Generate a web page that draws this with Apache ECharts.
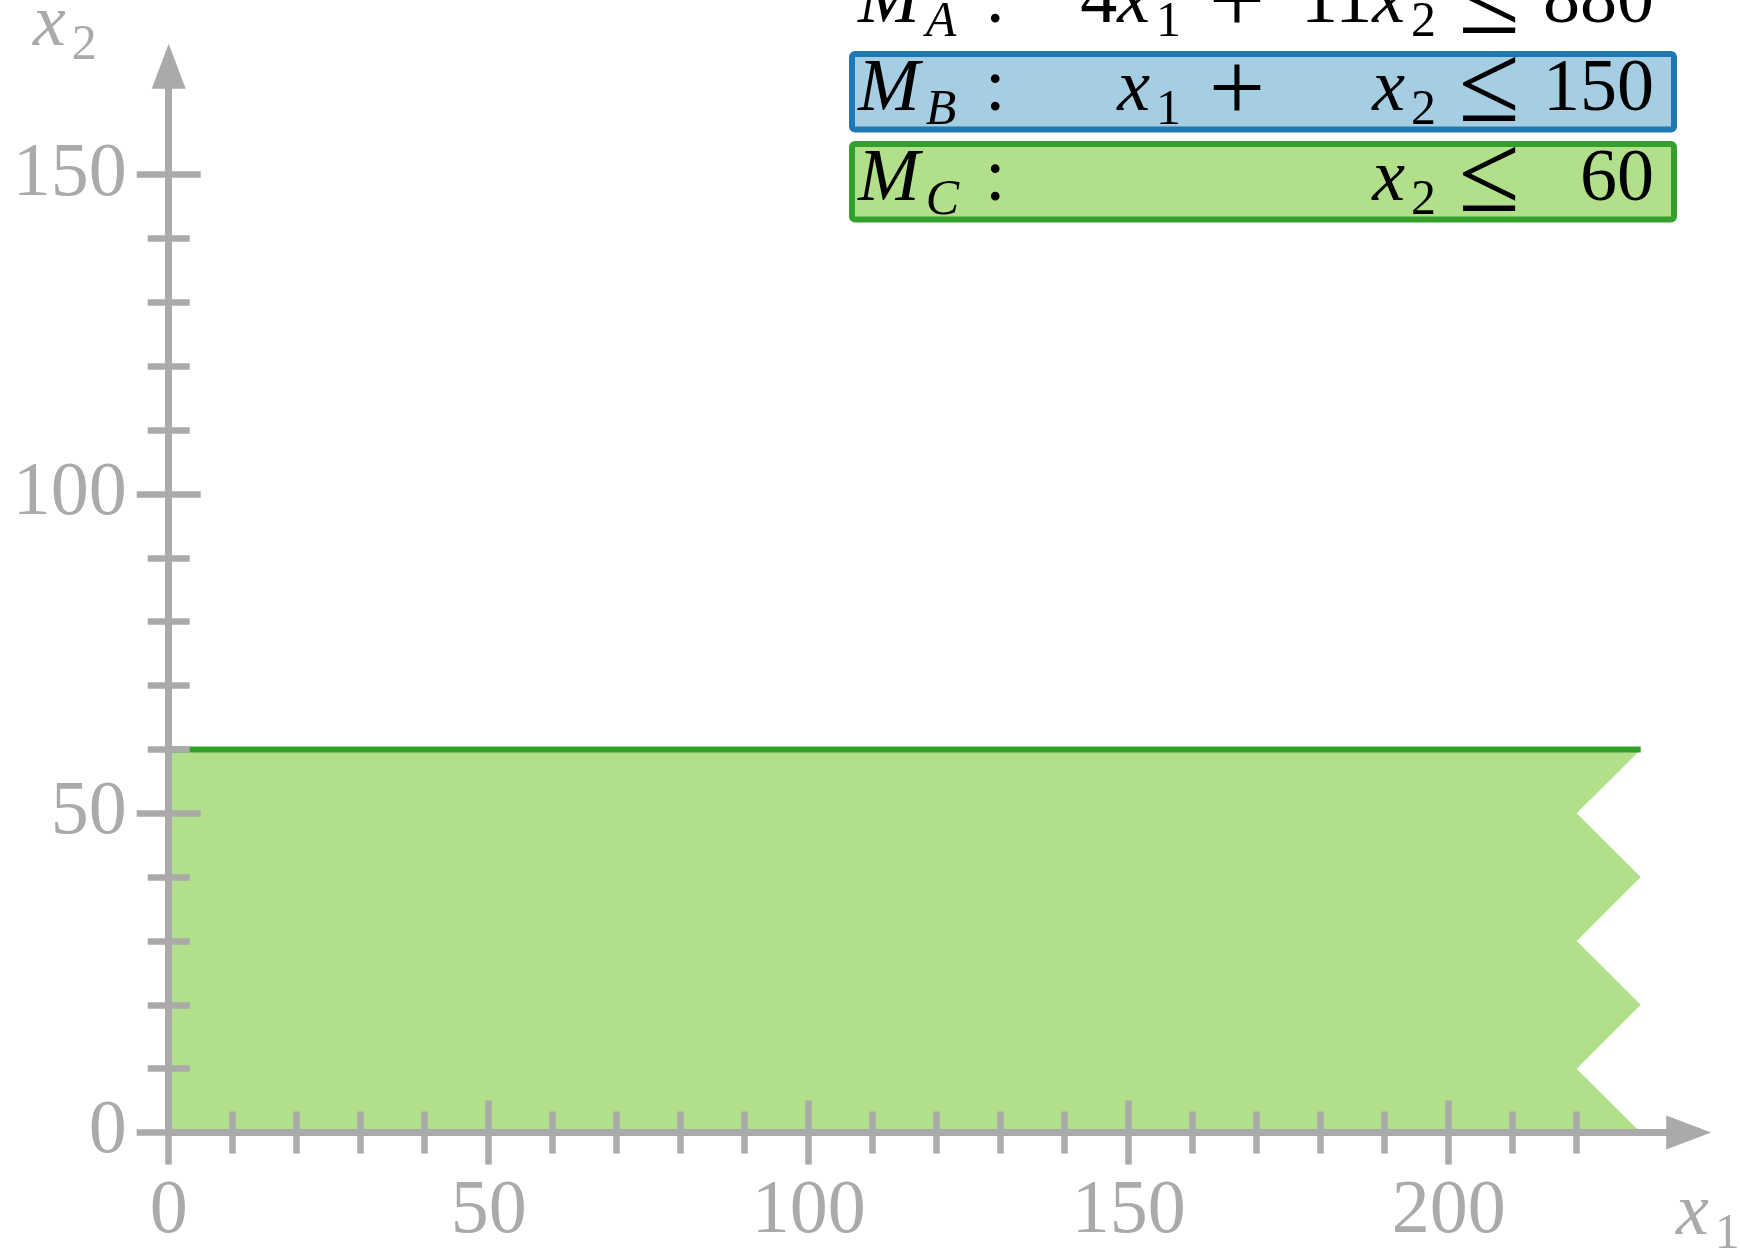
<!DOCTYPE html>
<html>
<head>
<meta charset="utf-8">
<script src="https://cdn.jsdelivr.net/npm/echarts@6/dist/echarts.min.js"></script>
<style>
  html, body { margin: 0; padding: 0; background: #ffffff; }
  #chart { width: 1740px; height: 1250px; }
</style>
</head>
<body>
<div id="chart"></div>
<script>
// ---------------- data ----------------
const xMajorTicks = [0, 50, 100, 150, 200];
const xMinorTicks = [10, 20, 30, 40, 60, 70, 80, 90, 110, 120, 130, 140, 160, 170, 180, 190, 210, 220];
const yMajorTicks = [0, 50, 100, 150];
const yMinorTicks = [10, 20, 30, 40, 60, 70, 80, 90, 110, 120, 130, 140];

// feasible region of constraint M_C (x2 <= 60), cut off with a zig-zag on the right
const regionX = [0, 0, 230, 220, 230, 220, 230, 220, 230];
const regionY = [0, 60, 60, 50, 40, 30, 20, 10, 0];

// boundary line of M_C
const lineCX = [0, 230];
const lineCY = [60, 60];

// constraint table (legend)
const consNames = ['A', 'B', 'C'];
const consA1 = [4, 1, null];
const consA2 = [11, 1, 1];
const consRhs = [880, 150, 60];

// ---------------- styles / layout ----------------
const AXIS_COLOR = '#aaaaaa';
const FAM = '"Liberation Serif"';
const X_MAX = 237.5, Y_MAX = 167;
const F = 74, FS = 50, LH = 74, SLH = 14;
const BASE = 57;       // top of text box -> alphabetic baseline
const rowBaselines = [23, 111, 201];
const boxFill = [null, '#a6cee3', '#b2df8a'];
const boxStroke = [null, '#1f78b4', '#33a02c'];

function richStyles(color) {
  return {
    m:  { font: `${F}px ${FAM}`, lineHeight: LH, fill: color },
    mi: { font: `italic ${F}px ${FAM}`, lineHeight: LH, fill: color },
    s:  { font: `${FS}px ${FAM}`, lineHeight: SLH, verticalAlign: 'top', padding: [32, 0, 0, 6], fill: color },
    si: { font: `italic ${FS}px ${FAM}`, lineHeight: SLH, verticalAlign: 'top', padding: [32, 0, 0, 6], fill: color }
  };
}
function richText(str, x, baseline, align, color) {
  return {
    type: 'text', x: x, y: baseline - BASE, z: 20,
    style: {
      text: str, rich: richStyles(color), fill: color,
      font: `${F}px ${FAM}`,
      textAlign: align, textVerticalAlign: 'top'
    }
  };
}
function symText(str, cx, cy, size, color) {
  return {
    type: 'text', x: cx, y: cy, z: 20,
    style: {
      text: str, fill: color, font: `${size}px ${FAM}`,
      textAlign: 'center', textVerticalAlign: 'middle'
    }
  };
}

const graphics = [];
consNames.forEach((nm, i) => {
  const b = rowBaselines[i];
  if (boxFill[i]) {
    graphics.push({
      type: 'rect', z: 15,
      shape: { x: 852, y: b - 57, width: 822, height: 75.5, r: 3 },
      style: { fill: boxFill[i], stroke: boxStroke[i], lineWidth: 6 }
    });
  }
  graphics.push(richText(`{mi|M}{si|${nm}}`, 858, b, 'left', '#000'));
  graphics.push(richText(`{m|:}`, 985, b, 'left', '#000'));
  if (consA1[i] !== null) {
    const c = consA1[i] === 1 ? '' : `{m|${consA1[i]}}`;
    graphics.push(richText(`${c}{mi|x}{s|1}`, 1181, b, 'right', '#000'));
    graphics.push(symText('+', 1237, b - 16, 100, '#000'));
  }
  if (consA2[i] !== null) {
    const c = consA2[i] === 1 ? '' : `{m|${consA2[i]}}`;
    graphics.push(richText(`${c}{mi|x}{s|2}`, 1436, b, 'right', '#000'));
  }
  graphics.push(symText('\u2264', 1489, b - 19, 112, '#000'));
  graphics.push(richText(`{m|${consRhs[i]}}`, 1654, b, 'right', '#000'));
});
// axis names
graphics.push(richText('{mi|x}{s|2}', 33, 46, 'left', AXIS_COLOR));
graphics.push(richText('{mi|x}{s|1}', 1676, 1235, 'left', AXIS_COLOR));

function makeAxis(dim, values, len, inside, main) {
  const isX = dim === 'x';
  return {
    type: 'value',
    position: isX ? 'bottom' : 'left',
    min: 0,
    max: isX ? X_MAX : Y_MAX,
    z: 10,
    splitLine: { show: false },
    axisLine: {
      show: !!main,
      onZero: false,
      symbol: ['none', 'triangle'],
      symbolSize: [34, 45],
      lineStyle: { color: AXIS_COLOR, width: 7 }
    },
    axisTick: {
      show: true, inside: inside, length: len,
      customValues: values,
      lineStyle: { color: AXIS_COLOR, width: 6.5 }
    },
    axisLabel: main ? {
      show: true,
      customValues: values,
      margin: isX ? 41.5 : 42,
      color: AXIS_COLOR,
      fontFamily: 'Liberation Serif',
      fontSize: 76
    } : { show: false }
  };
}

const chart = echarts.init(document.getElementById('chart'), null, { renderer: 'canvas' });
chart.setOption({
  animation: false,
  backgroundColor: '#ffffff',
  grid: { left: 168.7, top: 1135 - Y_MAX * 6.4, width: X_MAX * 6.4, height: Y_MAX * 6.4 },
  xAxis: [
    makeAxis('x', xMajorTicks, 32, false, true),
    makeAxis('x', xMajorTicks, 32, true, false),
    makeAxis('x', xMinorTicks, 21, false, false),
    makeAxis('x', xMinorTicks, 21, true, false)
  ],
  yAxis: [
    makeAxis('y', yMajorTicks, 32, false, true),
    makeAxis('y', yMajorTicks, 32, true, false),
    makeAxis('y', yMinorTicks, 21, false, false),
    makeAxis('y', yMinorTicks, 21, true, false)
  ],
  series: [
    {
      type: 'custom',
      xAxisIndex: 0, yAxisIndex: 0,
      z: 1,
      silent: true,
      data: [[regionX[0], regionY[0]]],
      renderItem: function (params, api) {
        const pts = regionX.map((x, i) => api.coord([x, regionY[i]]));
        return { type: 'polygon', shape: { points: pts }, style: { fill: '#b2df8a' } };
      }
    },
    {
      type: 'line',
      xAxisIndex: 0, yAxisIndex: 0,
      z: 2,
      symbol: 'none',
      silent: true,
      data: lineCX.map((x, i) => [x, lineCY[i]]),
      lineStyle: { color: '#33a02c', width: 6 }
    }
  ],
  graphic: graphics
});
</script>
</body>
</html>
